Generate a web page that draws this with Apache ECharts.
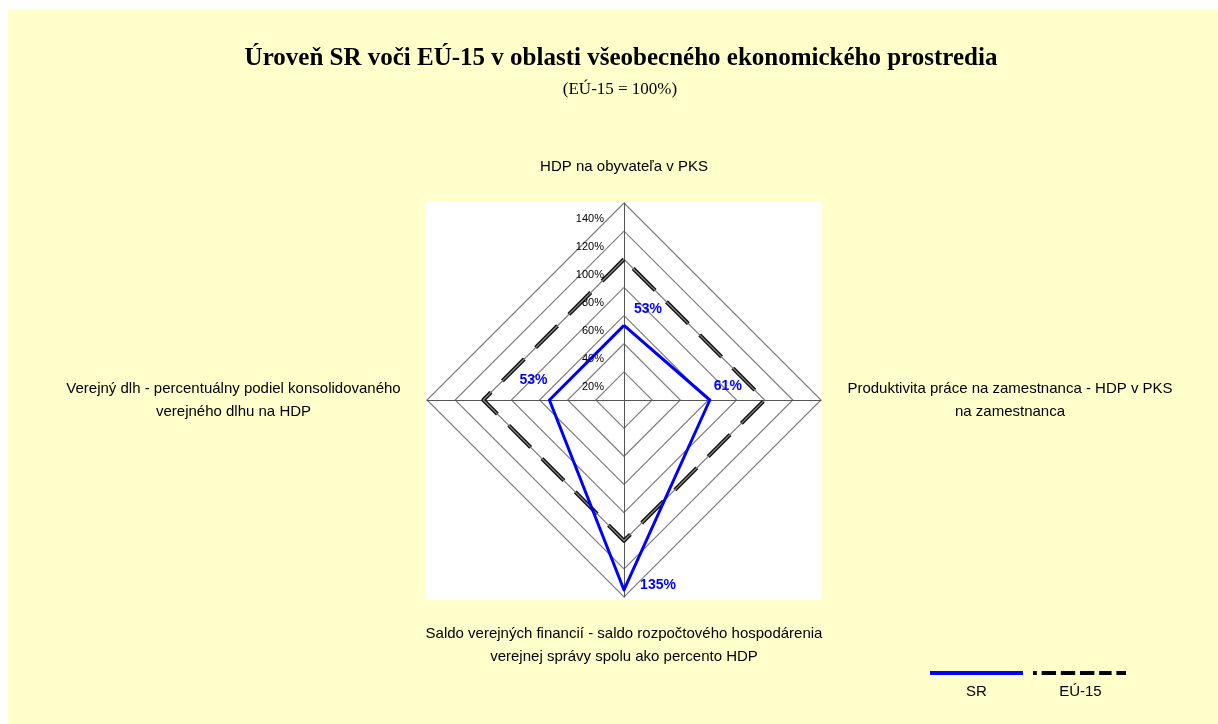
<!DOCTYPE html>
<html>
<head>
<meta charset="utf-8">
<script src="https://cdn.jsdelivr.net/npm/echarts@6/dist/echarts.min.js"></script>
<style>
html,body{margin:0;padding:0;background:#fff;}
#main{width:1218px;height:724px;}
</style>
</head>
<body>
<div id="main"></div>
<script>
// ---- data ----
const indicatorNames = [
  'HDP na obyvateľa v PKS',
  'Verejný dlh - percentuálny podiel konsolidovaného\nverejného dlhu na HDP',
  'Saldo verejných financií - saldo rozpočtového hospodárenia\nverejnej správy spolu ako percento HDP',
  'Produktivita práce na zamestnanca - HDP v PKS\nna zamestnanca'
];
const srValues = [53, 53, 135, 61];
const euValues = [100, 100, 100, 100];
const seriesNames = ['SR', 'EÚ-15'];
const axisMax = 140;
const axisSplits = 7;

// ---- layout / style ----
const cx = 624, cy = 400, R = 197;
const labelOffsets = [[24, -16], [-16, -20], [34, -5], [18, -14]];
const nameFont = 'Liberation Sans';
const nameSize = 15;

// measure line widths to center multi-line names
const ctx = document.createElement('canvas').getContext('2d');
ctx.font = nameSize + 'px "' + nameFont + '"';
const rich = {};
indicatorNames.forEach((n, i) => {
  const w = Math.max(...n.split('\n').map(s => ctx.measureText(s).width));
  rich['n' + i] = {width: Math.ceil(w) + 2, align: 'center', fontSize: nameSize, fontFamily: nameFont, color: '#000', lineHeight: 23};
});

const dashIcon = 'path://M0,0h4v4h-4z M9,0h15v4h-15z M29,0h15v4h-15z M49,0h15v4h-15z M69,0h13v4h-13z M87,0h10v4h-10z';
const euDash = [31, 16];

const chart = echarts.init(document.getElementById('main'));
chart.setOption({
  backgroundColor: '#fff',
  animation: false,
  graphic: [
    {type: 'rect', z: -100, silent: true, shape: {x: 8, y: 10, width: 1210, height: 714}, style: {fill: '#FFFFCC'}},
    {type: 'rect', z: -99, silent: true, shape: {x: cx - R - 2, y: cy - R - 2, width: 2 * R + 3, height: 2 * R + 5}, style: {fill: '#FFFFFF'}}
  ],
  title: [
    {text: 'Úroveň SR voči EÚ-15 v oblasti všeobecného ekonomického prostredia', left: 616, top: 41, textAlign: 'center',
     textStyle: {fontFamily: 'Liberation Serif', fontWeight: 'bold', fontSize: 25, color: '#000'}},
    {text: '(EÚ-15 = 100%)', left: 615, top: 76, textAlign: 'center',
     textStyle: {fontFamily: 'Liberation Serif', fontWeight: 'normal', fontSize: 17, color: '#000'}}
  ],
  legend: [
    {left: 930, top: 671, padding: 0, itemWidth: 93, itemHeight: 4, itemGap: 10, selectedMode: false,
     formatter: () => '', itemStyle: {borderWidth: 0},
     data: [{name: seriesNames[0], icon: 'rect'}, {name: seriesNames[1], icon: dashIcon}]},
    {left: 925, top: 684, padding: 0, itemWidth: 0, itemHeight: 16, itemGap: 42, selectedMode: false, icon: 'rect',
     itemStyle: {borderWidth: 0, opacity: 0},
     formatter: n => '{w|' + n + '}',
     textStyle: {rich: {w: {width: 93, align: 'center', fontSize: 15, fontFamily: nameFont, color: '#000'}}},
     data: seriesNames}
  ],
  radar: {
    center: [cx, cy],
    radius: R,
    startAngle: 90,
    shape: 'polygon',
    splitNumber: axisSplits,
    nameGap: 25,
    axisName: {
      color: '#000', fontFamily: nameFont, fontSize: nameSize,
      formatter: (name) => {
        const i = indicatorNames.indexOf(name);
        return name.split('\n').map(s => '{n' + i + '|' + s + '}').join('\n');
      },
      rich: rich
    },
    indicator: indicatorNames.map((n, i) => {
      const o = {name: n, min: 0, max: axisMax};
      if (i === 0) o.axisLabel = {show: true};
      return o;
    }),
    splitLine: {lineStyle: {color: '#808080', width: 1.2}},
    splitArea: {show: false},
    axisLine: {lineStyle: {color: '#555', width: 1}},
    axisTick: {show: false},
    axisLabel: {show: false, formatter: '{value}%', showMinLabel: false, color: '#000', fontSize: 11,
      fontFamily: nameFont, margin: 20, verticalAlign: 'top', padding: [10, 0, 0, 0]}
  },
  series: [
    {type: 'radar', name: seriesNames[1], z: 2, symbol: 'none', silent: true,
     lineStyle: {color: '#111', width: 4, type: euDash}, itemStyle: {color: '#000'},
     data: [{name: seriesNames[1], value: euValues}]},
    {type: 'radar', name: 'EÚ-15 inner', z: 2, symbol: 'none', silent: true,
     lineStyle: {color: '#8a8a8a', width: 1.2, type: euDash}, itemStyle: {color: '#8a8a8a'},
     data: [{value: euValues}]},
    {type: 'radar', name: seriesNames[0], z: 3, symbol: 'none', silent: true,
     lineStyle: {color: '#0000FF', width: 3}, itemStyle: {color: '#0000FF'},
     data: [{name: seriesNames[0], value: srValues}]},
    {type: 'radar', name: 'labels', z: 4, silent: true, symbol: 'circle', symbolSize: 1,
     itemStyle: {color: 'rgba(0,0,0,0)'}, lineStyle: {width: 0, opacity: 0},
     label: {show: true, position: 'inside', color: '#0000FF', fontWeight: 'bold', fontSize: 14, fontFamily: nameFont,
       formatter: p => (p.value ? p.value + '%' : '')},
     data: indicatorNames.map((n, k) => ({
       value: srValues.map((v, j) => (j === k ? v : 0)),
       label: {offset: labelOffsets[k]}
     }))}
  ]
});
</script>
</body>
</html>
